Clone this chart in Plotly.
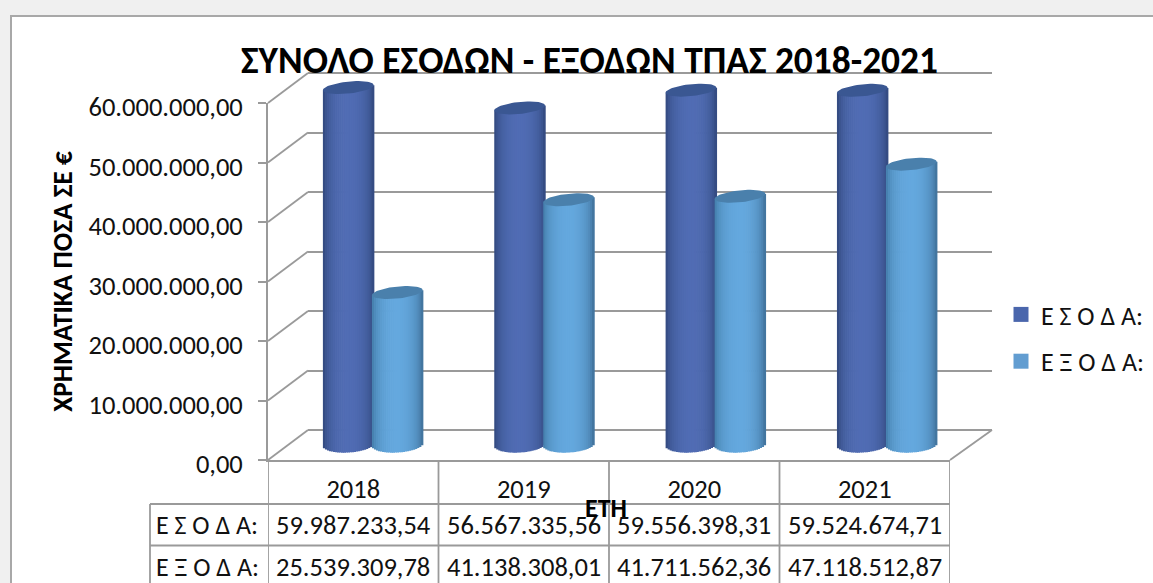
import math
import plotly.graph_objects as go

years = ["2018", "2019", "2020", "2021"]
esoda = [59987233.54, 56567335.56, 59556398.31, 59524674.71]
exoda = [25539309.78, 41138308.01, 41711562.36, 47118512.87]
row_labels = ["Ε Σ Ο Δ Α:", "Ε Ξ Ο Δ Α:"]
title_text = "ΣΥΝΟΛΟ ΕΣΟΔΩΝ - ΕΞΟΔΩΝ ΤΠΑΣ 2018-2021"
y_title = "ΧΡΗΜΑΤΙΚΑ ΠΟΣΑ ΣΕ €"
x_title = "ΕΤΗ"

W, H = 1153, 583
FONT = "Carlito, Lato, 'Noto Sans', sans-serif"
GRID = "#9a9a9a"
TEXT = "#111111"
FS = 26.5

def fx(p): return p / W
def fy(p): return 1 - p / H
def dom_x(a, b): return [fx(a), fx(b)]
def dom_y(top, bottom): return [fy(bottom), fy(top)]
def eu(v):
    return f"{v:,.2f}".replace(",", "§").replace(".", ",").replace("§", ".")

# chart geometry in page pixels
FX0, FX1, FY0, FY1 = 268, 950, 460, 103
DX, DY = 40, 30
PX_PER_X = (FX1 - FX0) / 4
YMAX = 60e6
PAD = 6e6   # extra value range so nothing sits on the edge of the inner axes
PX_PER_Y = (FY0 - FY1) / YMAX
PAD_PX = PAD * PX_PER_Y

def mix(a, b, t):
    return "rgb(%d,%d,%d)" % tuple(round(a[i] + (b[i] - a[i]) * t) for i in range(3))

def cylinder(values, x_start, edge_l, mid, edge_r, cap, name):
    width = 50.5 / PX_PER_X
    n = 25
    rb = 8.0 / PX_PER_Y
    rt = 6.0 / PX_PER_Y
    tilt = 2.5 / PX_PER_Y
    out = []
    for k in range(n):
        u = -1 + (2 * k + 1) / n
        t = math.sqrt(1 - u * u)
        col = mix(edge_l if u < 0 else edge_r, mid, t)
        lift = u * tilt
        base = [-rb * math.sqrt(1 - u * u) + lift * 0.6] * len(values)
        top = [v + lift for v in values]
        out.append(go.Bar(
            x=list(range(len(values))),
            y=[a - b for a, b in zip(top, base)],
            base=base,
            width=width / n * 1.35,
            offset=x_start + (k / n) * width,
            marker=dict(color=col, line=dict(width=0)),
            xaxis="x3", yaxis="y3", showlegend=False,
            hoverinfo="skip", cliponaxis=False,
        ))
    cx, cy = [], []
    for i, v in enumerate(values):
        for a in range(0, 61):
            th = 2 * math.pi * a / 60
            u = math.cos(th)
            cx.append(i + x_start + width / 2 + u * width / 2)
            cy.append(v + rt * math.sin(th) + u * tilt)
        cx.append(None)
        cy.append(None)
    out.append(go.Scatter(
        x=cx, y=cy, mode="lines", fill="toself", fillcolor=cap,
        line=dict(width=0, color=cap), xaxis="x3", yaxis="y3",
        showlegend=False, hoverinfo="skip", cliponaxis=False,
    ))
    return out

fig = go.Figure()

# back wall grid
fig.add_trace(go.Scatter(x=[0], y=[0], mode="none", xaxis="x2", yaxis="y2",
                         showlegend=False, hoverinfo="skip"))
# front frame
fig.add_trace(go.Scatter(x=[0], y=[0], mode="none", xaxis="x", yaxis="y",
                         showlegend=False, hoverinfo="skip"))

for tr in cylinder(esoda, -0.294, (42, 64, 112), (80, 108, 180), (42, 64, 112), "#3a5792", row_labels[0]):
    fig.add_trace(tr)
for tr in cylinder(exoda, -0.008, (60, 115, 158), (100, 168, 222), (54, 98, 136), "#4a80ac", row_labels[1]):
    fig.add_trace(tr)

# legend entries
for name, color, grp in [(row_labels[0], "#4A66AC", "a"), (row_labels[1], "#629DD1", "b")]:
    fig.add_trace(go.Scatter(
        x=[None], y=[None], mode="markers", name=name, legendgroup=grp,
        marker=dict(symbol="square", size=15, color=color),
        xaxis="x3", yaxis="y3",
    ))

tick_vals = [i * 10e6 for i in range(7)]
shapes = [
    # white panel
    dict(type="rect", xref="paper", yref="paper", x0=fx(11), x1=fx(W + 20), y0=fy(H + 20), y1=fy(16),
         fillcolor="white", line=dict(color="#a8a8a8", width=2), layer="below"),
]
line = dict(color=GRID, width=1.8)
# left wall diagonals
for v in tick_vals:
    py = FY0 - v * PX_PER_Y
    shapes.append(dict(type="line", xref="paper", yref="paper", x0=fx(FX0), y0=fy(py),
                       x1=fx(FX0 + DX), y1=fy(py - DY), line=line, layer="below"))
# right floor diagonal
shapes.append(dict(type="line", xref="paper", yref="paper", x0=fx(FX1), y0=fy(FY0),
                   x1=fx(FX1 + DX + 2), y1=fy(FY0 - DY), line=line, layer="below"))
# table rules
for i in range(5):
    shapes.append(dict(type="line", xref="x", yref="paper", x0=i - 0.5, x1=i - 0.5,
                       y0=fy(FY0), y1=fy(H + 5), line=line, layer="below"))
shapes.append(dict(type="line", xref="paper", yref="paper", x0=fx(150), x1=fx(150),
                   y0=fy(504), y1=fy(H + 5), line=line, layer="below"))
for py in (504, 545.5):
    shapes.append(dict(type="line", xref="paper", yref="paper", x0=fx(150), x1=fx(FX1),
                       y0=fy(py), y1=fy(py), line=line, layer="below"))

# table text
ann = []
for r, (lab, vals) in enumerate(zip(row_labels, (esoda, exoda))):
    py = 525 + r * 41.5
    ann.append(dict(text=lab, xref="paper", yref="paper", x=fx(207), y=fy(py), showarrow=False,
                    xanchor="center", yanchor="middle", font=dict(family=FONT, size=26, color=TEXT)))
    for i, v in enumerate(vals):
        ann.append(dict(text=eu(v), xref="x", yref="paper", x=i, y=fy(py), showarrow=False,
                        xanchor="center", yanchor="middle", font=dict(family=FONT, size=FS, color=TEXT)))
# category axis name, sitting where the reference has it
ann.append(dict(text=x_title, xref="paper", yref="paper", x=fx(606), y=fy(508), showarrow=False,
                xanchor="center", yanchor="middle",
                font=dict(family=FONT, size=26, weight=700, color="#000000")))

fig.update_layout(
    width=W, height=H, margin=dict(l=0, r=0, t=0, b=0, autoexpand=False),
    paper_bgcolor="#f0f0f0", plot_bgcolor="rgba(0,0,0,0)",
    separators=",.", barmode="overlay", shapes=shapes, annotations=ann,
    title=dict(text=title_text, x=fx(589.5), y=fy(60), xanchor="center", yanchor="middle",
               font=dict(family=FONT, size=37.4, weight=700, color="#000000")),
    legend=dict(x=fx(1001), y=fy(291), xanchor="left", yanchor="top", tracegroupgap=10,
                font=dict(family=FONT, size=26, color=TEXT), bgcolor="rgba(0,0,0,0)", itemwidth=30),
    xaxis=dict(domain=dom_x(FX0, FX1), range=[-0.5, 3.5], tickvals=[0, 1, 2, 3], ticktext=years,
               ticks="", ticklabelstandoff=4, showgrid=False, zeroline=False, showline=True,
               linecolor=GRID, linewidth=1.8, anchor="y",
               tickfont=dict(family=FONT, size=FS, color=TEXT)),
    yaxis=dict(domain=dom_y(FY1, FY0), range=[0, YMAX], tickvals=tick_vals, tickformat=",.2f",
               ticks="outside", ticklen=8, tickcolor=GRID, tickwidth=1.8, showgrid=False,
               zeroline=False, showline=True, linecolor=GRID, linewidth=1.8, anchor="x",
               ticklabelstandoff=10, ticklabelshift=4,
               tickfont=dict(family=FONT, size=FS, color=TEXT),
               title=dict(text=y_title, standoff=8, font=dict(family=FONT, size=27.3, weight=700, color="#000"))),
    xaxis2=dict(domain=dom_x(FX0 + DX, FX1 + DX + 2), range=[-0.5, 3.5], visible=False, anchor="y2"),
    yaxis2=dict(domain=dom_y(FY1 - DY - PAD_PX, FY0 - DY + PAD_PX), range=[-PAD, YMAX + PAD],
                tickvals=tick_vals, showticklabels=False,
                ticks="", showgrid=True, gridcolor=GRID, gridwidth=1.8, zeroline=False, showline=False,
                anchor="x2"),
    xaxis3=dict(domain=dom_x(FX0 + 19.6, FX1 + 23), range=[-0.5, 3.5], visible=False, anchor="y3"),
    yaxis3=dict(domain=dom_y(FY1 - 15.5 - PAD_PX, FY0 - 15.5 + PAD_PX), range=[-PAD, YMAX + PAD],
                visible=False, anchor="x3"),
)

fig.write_html("out.html", config=dict(displayModeBar=False),
               post_script="document.body.style.margin='0';document.documentElement.style.overflow='hidden';")
